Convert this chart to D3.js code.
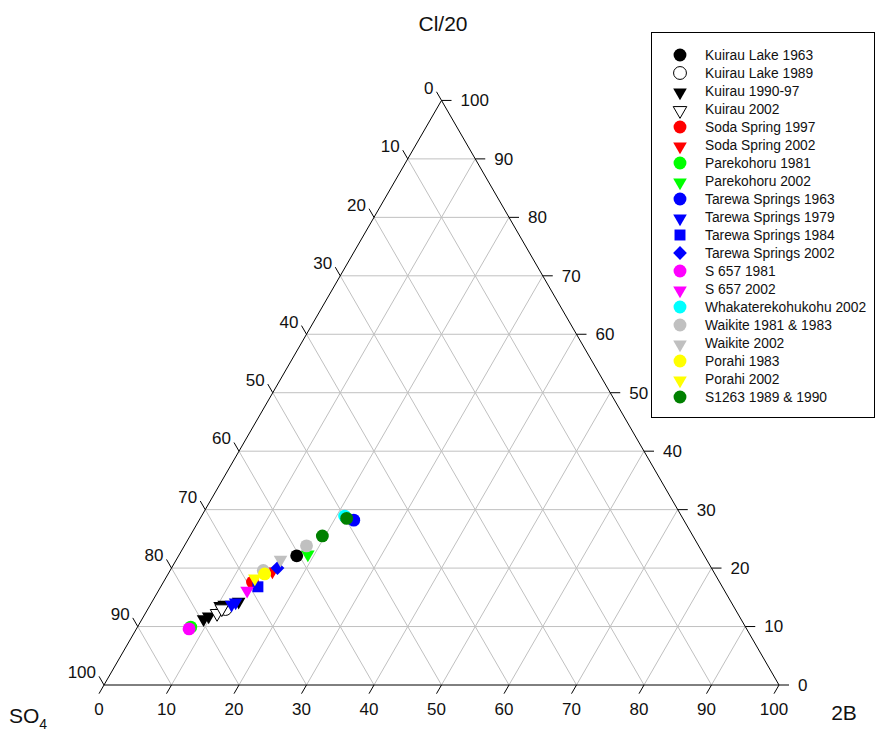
<!DOCTYPE html>
<html>
<head>
<meta charset="utf-8">
<script src="https://cdnjs.cloudflare.com/ajax/libs/d3/7.8.5/d3.min.js"></script>
<style>
  body { margin: 0; background: #fff; }
  svg { font-family: Arial, "Liberation Sans", sans-serif; }
</style>
</head>
<body>
<div id="chart"></div>
<script>
// ternary data, each point is [2B, Cl/20] in percent (SO4 = 100 - both)
var kuirauLake1963 = [[17.5, 22.1]];
var kuirauLake1989 = [[11.5, 13.0]];
var kuirau199097 = [[9.0, 11.5], [9.5, 12.0], [10.3, 13.8], [10.8, 14.0], [12.7, 14.5]];
var kuirau2002 = [[10.5, 12.5], [10.8, 13.3]];
var sodaSpring1997 = [[13.2, 17.6]];
var sodaSpring2002 = [[15.1, 19.7]];
var parekohoru1981 = [[7.9, 9.9]];
var parekohoru2002 = [[18.9, 22.6]];
var tarewa1963 = [[22.9, 28.2]];
var tarewa1979 = [[11.9, 14.0], [12.3, 14.4]];
var tarewa1984 = [[14.4, 16.8]];
var tarewa2002 = [[15.7, 20.0]];
var s6571981 = [[7.8, 9.6]];
var s6572002 = [[13.0, 16.4]];
var whakaterekohukohu2002 = [[21.2, 28.9]];
var waikite19811983 = [[13.8, 19.6], [18.1, 23.8]];
var waikite2002 = [[15.3, 21.7]];
var porahi1983 = [[14.3, 19.0]];
var porahi2002 = [[13.1, 18.5]];
var s126319891990 = [[19.6, 25.5], [21.7, 28.5]];

var seriesNames = ["Kuirau Lake 1963", "Kuirau Lake 1989", "Kuirau 1990-97", "Kuirau 2002",
  "Soda Spring 1997", "Soda Spring 2002", "Parekohoru 1981", "Parekohoru 2002",
  "Tarewa Springs 1963", "Tarewa Springs 1979", "Tarewa Springs 1984", "Tarewa Springs 2002",
  "S 657 1981", "S 657 2002", "Whakaterekohukohu 2002", "Waikite 1981 & 1983",
  "Waikite 2002", "Porahi 1983", "Porahi 2002", "S1263 1989 & 1990"];
var seriesData = [kuirauLake1963, kuirauLake1989, kuirau199097, kuirau2002,
  sodaSpring1997, sodaSpring2002, parekohoru1981, parekohoru2002,
  tarewa1963, tarewa1979, tarewa1984, tarewa2002,
  s6571981, s6572002, whakaterekohukohu2002, waikite19811983,
  waikite2002, porahi1983, porahi2002, s126319891990];
var ticks = [0, 10, 20, 30, 40, 50, 60, 70, 80, 90, 100];

// marker styles, same order as the series
var markerStyle = [
  {shape: "circle", fill: "#000000"}, {shape: "circle", fill: "#ffffff"},
  {shape: "tri", fill: "#000000"}, {shape: "tri", fill: "#ffffff"},
  {shape: "circle", fill: "#ff0000"}, {shape: "tri", fill: "#ff0000"},
  {shape: "circle", fill: "#00ff00"}, {shape: "tri", fill: "#00ff00"},
  {shape: "circle", fill: "#0000ff"}, {shape: "tri", fill: "#0000ff"},
  {shape: "square", fill: "#0000ff"}, {shape: "diamond", fill: "#0000ff"},
  {shape: "circle", fill: "#ff00ff"}, {shape: "tri", fill: "#ff00ff"},
  {shape: "circle", fill: "#00ffff"}, {shape: "circle", fill: "#c0c0c0"},
  {shape: "tri", fill: "#c0c0c0"}, {shape: "circle", fill: "#ffff00"},
  {shape: "tri", fill: "#ffff00"}, {shape: "circle", fill: "#008000"}
];

var W = 878, H = 731;
var left = 104, right = 779, bottom = 685;
var side = right - left;
var top0 = bottom - side * Math.sqrt(3) / 2;

var svg = d3.select("#chart").append("svg").attr("width", W).attr("height", H);

// x runs with 2B + Cl/2, y with Cl
var xs = d3.scaleLinear().domain([0, 100]).range([left, right]);
var ys = d3.scaleLinear().domain([0, 100]).range([bottom, top0]);
function proj(b, c) { return [xs(b + c / 2), ys(c)]; }

var tickLen = 10;
var dx = tickLen * 0.5, dy = tickLen * Math.sqrt(3) / 2;

//grid lines
var grid = svg.append("g").attr("stroke", "#c0c0c0").attr("stroke-width", 1).attr("fill", "none");
ticks.slice(1, 10).forEach(function(v){
  var lines = [
    [proj(0, v), proj(100 - v, v)],          // constant Cl
    [proj(v, 0), proj(v, 100 - v)],          // constant 2B
    [proj(100 - v, 0), proj(0, 100 - v)]     // constant SO4
  ];
  lines.forEach(function(l){
    grid.append("line").attr("x1", l[0][0]).attr("y1", l[0][1]).attr("x2", l[1][0]).attr("y2", l[1][1]);
  });
});

//triangle frame
svg.append("path")
  .attr("d", d3.line()([proj(0, 0), proj(100, 0), proj(0, 100)]) + "Z")
  .attr("fill", "none").attr("stroke", "#000").attr("stroke-width", 1);

var axes = svg.append("g").attr("font-size", "17px").attr("fill", "#111");
ticks.forEach(function(v){
  // bottom axis (2B)
  var p = proj(v, 0);
  axes.append("line").attr("x1", p[0]).attr("y1", p[1]).attr("x2", p[0] - dx).attr("y2", p[1] + dy).attr("stroke", "#000");
  axes.append("text").attr("x", p[0] - dx).attr("y", p[1] + dy + 21).attr("text-anchor", "middle").text(v);
  // right axis (Cl/20)
  var q = proj(100 - v, v);
  axes.append("line").attr("x1", q[0]).attr("y1", q[1]).attr("x2", q[0] + tickLen).attr("y2", q[1]).attr("stroke", "#000");
  axes.append("text").attr("x", q[0] + tickLen + 9).attr("y", q[1]).attr("dy", "0.35em").text(v);
  // left axis (SO4)
  var r = proj(0, 100 - v);
  axes.append("line").attr("x1", r[0]).attr("y1", r[1]).attr("x2", r[0] - dx).attr("y2", r[1] - dy).attr("stroke", "#000");
  axes.append("text").attr("x", r[0] - dx - 3).attr("y", r[1] - dy - 4).attr("dy", "0.35em").attr("text-anchor", "end").text(v);
});

//axis titles
svg.append("text").attr("x", 443).attr("y", 31).attr("text-anchor", "middle").attr("font-size", "21px").attr("fill", "#111").text("Cl/20");
svg.append("text").attr("x", 844).attr("y", 720).attr("text-anchor", "middle").attr("font-size", "21px").attr("fill", "#111").text("2B");
var so4 = svg.append("text").attr("x", 9).attr("y", 723).attr("font-size", "21px").attr("fill", "#111");
so4.append("tspan").text("SO");
so4.append("tspan").attr("font-size", "14px").attr("dy", 6).text("4");

function markerPath(shape){
  if(shape == "circle") return d3.symbol().type(d3.symbolCircle).size(130)();
  if(shape == "tri") return d3.symbol().type(d3.symbolTriangle).size(80)();
  if(shape == "square") return d3.symbol().type(d3.symbolSquare).size(120)();
  return d3.symbol().type(d3.symbolSquare).size(95)();
}
function markerRotate(shape){
  if(shape == "tri") return " rotate(180) translate(0,-1.5)";
  if(shape == "diamond") return " rotate(45)";
  return "";
}
function drawMarker(g, x, y, st){
  g.append("path")
    .attr("d", markerPath(st.shape))
    .attr("transform", "translate(" + x + "," + y + ")" + markerRotate(st.shape))
    .attr("fill", st.fill)
    .attr("stroke", st.fill == "#ffffff" ? "#000" : "none")
    .attr("stroke-width", 1);
}

//data points, drawn in legend order
var pts = svg.append("g");
seriesData.forEach(function(arr, k){
  arr.forEach(function(d){
    var p = proj(d[0], d[1]);
    drawMarker(pts, p[0], p[1], markerStyle[k]);
  });
});

//legend
var lg = svg.append("g");
lg.append("rect").attr("x", 651.5).attr("y", 32.5).attr("width", 223).attr("height", 385)
  .attr("fill", "#fff").attr("stroke", "#000").attr("stroke-width", 1);
seriesNames.forEach(function(name, i){
  var y = 55 + i * 18;
  drawMarker(lg, 680, y, markerStyle[i]);
  lg.append("text").attr("x", 705).attr("y", y).attr("dy", "0.35em").attr("font-size", "13.8px").attr("fill", "#111").text(name);
});
</script>
</body>
</html>
